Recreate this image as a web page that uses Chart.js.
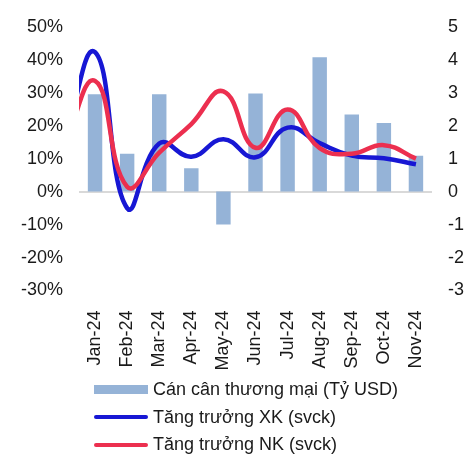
<!DOCTYPE html>
<html>
<head>
<meta charset="utf-8">
<script src="https://cdn.jsdelivr.net/npm/chart.js@4.4.1/dist/chart.umd.min.js"></script>
<style>
  html, body { margin: 0; padding: 0; background: #fff; }
  #wrap { position: relative; width: 470px; height: 454px; }
  #legend {
    position: absolute; left: 94px; top: 376px;
    font: 18px 'Liberation Sans', Arial, sans-serif; color: #1a1a1a;
  }
  .item { display: flex; align-items: center; height: 27.5px; white-space: nowrap; }
  .swatch { width: 54px; margin-right: 5px; }
</style>
</head>
<body>
<div id="wrap">
  <canvas id="chart" width="470" height="454"></canvas>
  <div id="legend"></div>
</div>
<script>
const months = ['Jan-24', 'Feb-24', 'Mar-24', 'Apr-24', 'May-24', 'Jun-24',
  'Jul-24', 'Aug-24', 'Sep-24', 'Oct-24', 'Nov-24'];
const tradeBalance = [2.95, 1.15, 2.95, 0.71, -1.0, 2.98, 2.45, 4.08, 2.34, 2.08, 1.09];
const exportGrowth = [42.3, -5.0, 14.6, 10.6, 15.9, 10.4, 19.4, 14.7, 10.9, 10.1, 8.3];
const importGrowth = [33.6, 1.5, 11.8, 20.5, 30.4, 13.3, 24.9, 13.2, 11.5, 14.1, 10.0];
// Dec-23 sits left of the plot; only the curve coming in from the edge is visible
const exportGrowthDec23 = 13.0;
const importGrowthDec23 = 12.6;

const barLabel = 'Cán cân thương mại (Tỷ USD)';
const exportLabel = 'Tăng trưởng XK (svck)';
const importLabel = 'Tăng trưởng NK (svck)';

const barColor = '#95b3d7';
const exportColor = '#1717d4';
const importColor = '#ec2f4f';
const textColor = '#1a1a1a';

function toPoints(firstValue, values) {
  return [{ x: -1, y: firstValue }].concat(values.map((v, i) => ({ x: i, y: v })));
}

Chart.defaults.font.family = "'Liberation Sans', Arial, sans-serif";
Chart.defaults.font.size = 18;
Chart.defaults.color = textColor;

const chartEl = document.getElementById('chart');

new Chart(chartEl, {
  type: 'bar',
  data: {
    labels: months,
    datasets: [
      {
        label: barLabel,
        data: tradeBalance,
        backgroundColor: barColor,
        yAxisID: 'y1',
        xAxisID: 'x',
        barPercentage: 0.45,
        categoryPercentage: 1,
        grouped: false,
        order: 3,
      },
      {
        type: 'line',
        label: exportLabel,
        data: toPoints(exportGrowthDec23, exportGrowth),
        borderColor: exportColor,
        borderWidth: 4.5,
        pointRadius: 0,
        tension: 0.45,
        yAxisID: 'y',
        xAxisID: 'x2',
        clip: 0,
        order: 2,
      },
      {
        type: 'line',
        label: importLabel,
        data: toPoints(importGrowthDec23, importGrowth),
        borderColor: importColor,
        borderWidth: 4.5,
        pointRadius: 0,
        tension: 0.45,
        yAxisID: 'y',
        xAxisID: 'x2',
        clip: 0,
        order: 1,
      },
    ],
  },
  options: {
    responsive: false,
    animation: false,
    layout: { padding: { top: 16, left: 0, right: 0, bottom: 0 } },
    plugins: {
      legend: { display: false },
      tooltip: { enabled: false },
    },
    scales: {
      x: {
        type: 'category',
        offset: true,
        grid: { display: false },
        border: { display: false },
        ticks: { minRotation: 90, maxRotation: 90, padding: 12, autoSkip: false },
        afterFit: (scale) => { scale.height = 163.5; },
      },
      x2: {
        type: 'linear',
        min: -0.5,
        max: 10.5,
        offset: false,
        grid: { display: false, offset: false },
        display: false,
      },
      y: {
        position: 'left',
        min: -30,
        max: 50,
        ticks: {
          stepSize: 10,
          padding: 16,
          callback: (value) => value + '%',
        },
        grid: {
          drawTicks: false,
          lineWidth: 2,
          color: (ctx) => (ctx.tick && ctx.tick.value === 0 ? '#d9d9d9' : 'rgba(0,0,0,0)'),
        },
        border: { display: false },
        afterFit: (scale) => { scale.width = 79; },
      },
      y1: {
        position: 'right',
        min: -3,
        max: 5,
        ticks: { stepSize: 1, padding: 16 },
        grid: { display: false, drawTicks: false },
        border: { display: false },
        afterFit: (scale) => { scale.width = 38; },
      },
    },
  },
});

const legendItems = [
  { label: barLabel, color: barColor, height: 9 },
  { label: exportLabel, color: exportColor, height: 4 },
  { label: importLabel, color: importColor, height: 4 },
];

const legendEl = document.getElementById('legend');
for (const item of legendItems) {
  const row = document.createElement('div');
  row.className = 'item';
  const swatch = document.createElement('span');
  swatch.className = 'swatch';
  swatch.style.background = item.color;
  swatch.style.height = item.height + 'px';
  if (item.height < 9) swatch.style.borderRadius = '2px';
  const text = document.createElement('span');
  text.textContent = item.label;
  row.appendChild(swatch);
  row.appendChild(text);
  legendEl.appendChild(row);
}
</script>
</body>
</html>
